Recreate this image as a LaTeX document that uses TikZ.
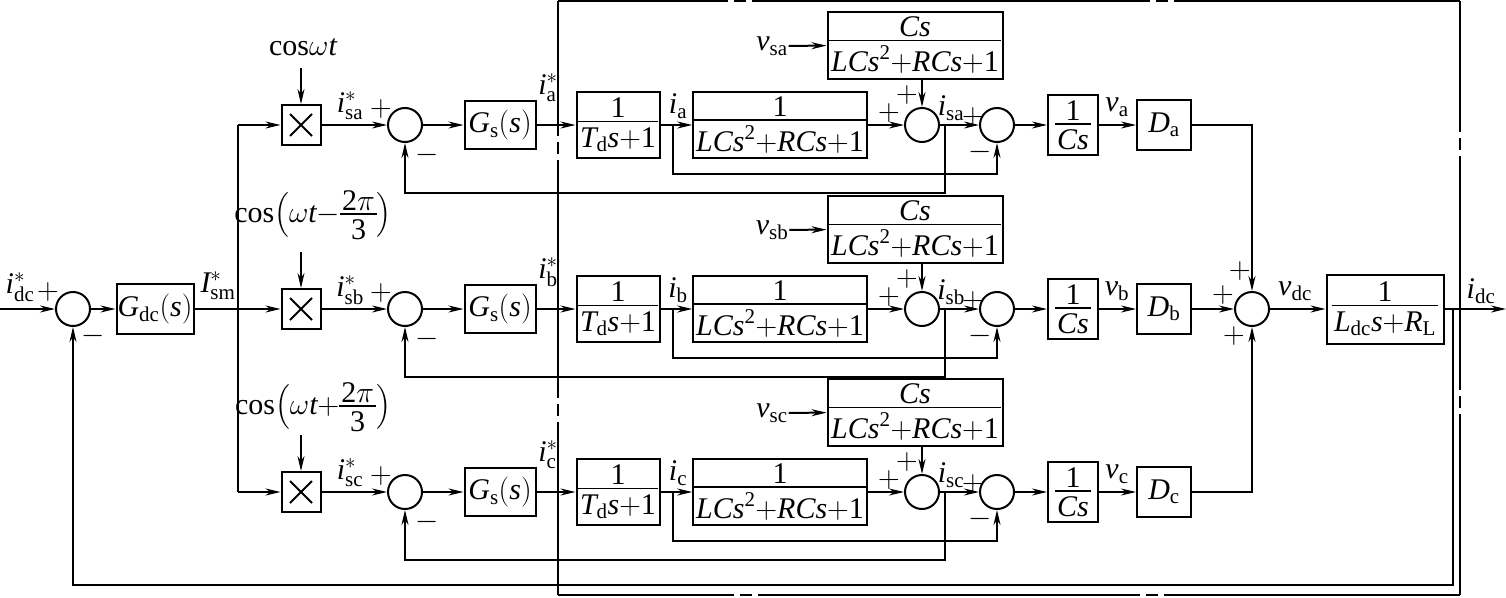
\RequirePackage{fix-cm}
\documentclass[tikz,border=0pt]{standalone}
\usepackage{amsmath}
\usepackage{fontspec}
\setmainfont{Liberation Serif}
\usetikzlibrary{arrows.meta}
\newcommand\mi[1]{\mathit{#1}}
\newcommand\mr[1]{\mathrm{#1}}
\newdimen\frw
\newcommand\fr[2]{\vcenter{\hbox{\setbox0\hbox{$#1$}\setbox2\hbox{$#2$}%
  \frw=\ifdim\wd0>\wd2 \wd0\else\wd2\fi \advance\frw by 4pt
  \vbox{\hbox to\frw{\hss\box0\hss}\kern3pt\hrule height 1.5pt\kern5pt\hbox to\frw{\hss\box2\hss}}}}}
\begin{document}
\begin{tikzpicture}[x=1pt,y=-1pt,
  line width=2pt,
  >={Stealth[length=15pt,width=7pt]},
  every node/.style={font=\fontsize{30}{36}\selectfont, inner sep=0pt},
  blk/.style={draw, line width=2pt, inner sep=1pt},
  sumc/.style={draw, circle, minimum size=34pt, line width=2pt},
  mult/.style={draw, minimum width=39pt, minimum height=40pt, line width=2pt},
  sgn/.style={inner sep=0pt},
  frame/.style={line width=1.5pt}
]
\useasboundingbox (0,0) rectangle (1506,597);

% ---------- left part ----------
\coordinate (in) at (0,309);
\node[sumc] (s0) at (73,309) {};
\node[blk, minimum width=77pt, minimum height=50pt] (gdc) at (155,309) {$\mi{G}_{\mr{dc}}(\mi{s})$};
\coordinate (bus) at (238,309);
\node (lidc) at (20,287) {$\mi{i}^{*}_{\mr{dc}}$};
\node[sgn] (p0) at (48,292) {$+$};
\node[sgn] (n0) at (93,336) {$-$};
\node (lism) at (218,286) {$\mi{I}^{*}_{\mr{sm}}$};

\node (cosa) at (303,47) {$\mr{cos}\omega\mi{t}$};
\node (cosb) at (313,215) {$\mr{cos}\!\left(\omega\mi{t}{-}\fr{\mr{2}\pi}{\mr{3}}\right)$};
\node (cosc) at (313,407) {$\mr{cos}\!\left(\omega\mi{t}{+}\fr{\mr{2}\pi}{\mr{3}}\right)$};

% ---------- three phase rows ----------
\foreach \rw/\y in {a/125,b/309,c/492}{
  \coordinate (bus\rw) at (238,\y);
  \coordinate (ct\rw) at (301,\y-57);
  \node[mult] (m\rw) at (301,\y) {};
  \draw ([shift={(-11,-11)}]m\rw.center) -- ([shift={(11,11)}]m\rw.center)
        ([shift={(-11,11)}]m\rw.center) -- ([shift={(11,-11)}]m\rw.center);
  \node[sumc] (e\rw) at (405,\y) {};
  \node[blk, minimum width=71pt, minimum height=48pt] (gs\rw) at (500,\y) {$\mi{G}_{\mr{s}}(\mi{s})$};
  \node[blk, minimum width=83pt, minimum height=66pt] (td\rw) at (618,\y) {$\fr{\mr{1}}{\mi{T}_{\mr{d}}\mi{s}{+}\mr{1}}$};
  \node[blk, minimum width=171pt, minimum height=66pt] (lc\rw) at (780,\y) {$\fr{\mr{1}}{\mi{LCs}^{\mr{2}}{+}\mi{RCs}{+}\mr{1}}$};
  \node[blk, minimum width=175pt, minimum height=67pt] (cs\rw) at (915,\y-80) {$\fr{\mi{Cs}}{\mi{LCs}^{\mr{2}}{+}\mi{RCs}{+}\mr{1}}$};
  \node (vs\rw) at (772,\y-79) {$\mi{v}_{\mr{s\rw}}$};
  \node[sumc] (sa\rw) at (922,\y) {};
  \node[sumc] (sb\rw) at (997,\y) {};
  \node[blk, minimum width=50pt, minimum height=60pt] (ic\rw) at (1073,\y) {$\fr{\mr{1}}{\mi{Cs}}$};
  \node[blk, minimum width=54pt, minimum height=50pt] (d\rw) at (1164,\y) {$\mi{D}_{\mr{\rw}}$};
  \coordinate (ba\rw) at (673,\y);
  \coordinate (bs\rw) at (945,\y);
  % labels
  \node (lis\rw) at (350,\y-19) {$\mi{i}^{*}_{\mr{s\rw}}$};
  \node[sgn] at (381,\y-16) {$+$};
  \node[sgn] at (427,\y+30) {$-$};
  \node (lir\rw) at (548,\y-37) {$\mi{i}^{*}_{\mr{\rw}}$};
  \node (li\rw) at (678,\y-19) {$\mi{i}_{\mr{\rw}}$};
  \node[sgn] at (907,\y-30) {$+$};
  \node[sgn] at (889,\y-12) {$+$};
  \node (lisx\rw) at (951,\y-17) {$\mi{i}_{\mr{s\rw}}$};
  \node[sgn] at (973,\y-8) {$+$};
  \node[sgn] at (980,\y+27) {$-$};
  \node (lv\rw) at (1117,\y-18) {$\mi{v}_{\mr{\rw}}$};
  % connectors
  \draw[->] (bus\rw) -- (m\rw);
  \draw[->] (ct\rw) -- (m\rw);
  \draw[->] (m\rw) -- (e\rw);
  \draw[->] (e\rw) -- (gs\rw);
  \draw[->] (gs\rw) -- (td\rw);
  \draw[->] (td\rw) -- (lc\rw);
  \draw[->] (lc\rw) -- (sa\rw);
  \draw[->] (vs\rw) -- (cs\rw);
  \draw[->] (sa\rw |- cs\rw.south) -- (sa\rw);
  \draw[->] (sa\rw) -- (sb\rw);
  \draw[->] (sb\rw) -- (ic\rw);
  \draw[->] (ic\rw) -- (d\rw);
  \draw[->] (ba\rw) -- ++(0,49) -| (sb\rw);
  \draw[->] (bs\rw) -- ++(0,68) -| (e\rw);
}

% ---------- right part ----------
\node[sumc] (sd) at (1252,309) {};
\node[blk, minimum width=117pt, minimum height=69pt] (ldc) at (1385,309) {$\fr{\mr{1}}{\mi{L}_{\mr{dc}}\mi{s}{+}\mi{R}_{\mr{L}}}$};
\coordinate (out) at (1506,309);
\coordinate (fb) at (1453,309);
\coordinate (fbc) at (1453,585);
\node[sgn] at (1240,271) {$+$};
\node[sgn] at (1223,295) {$+$};
\node[sgn] at (1234,336) {$+$};
\node (lvdc) at (1295,291) {$\mi{v}_{\mr{dc}}$};
\node (lidco) at (1481,291) {$\mi{i}_{\mr{dc}}$};

\draw[->] (in) -- (s0);
\draw[->] (s0) -- (gdc);
\draw (gdc) -- (bus);
\draw (busa) -- (busc);
\draw[->] (da) -| (sd);
\draw[->] (db) -- (sd);
\draw[->] (dc) -| (sd);
\draw[->] (sd) -- (ldc);
\draw[->] (ldc) -- (out);
\draw[->] (fb) -- (fbc) -| (s0);

% ---------- dash-dotted frame ----------
\draw[frame] (558,1) -- (728,1) (734,1) -- (746,1) (752,1) -- (1150,1) (1156,1) -- (1168,1) (1174,1) -- (1460,1);
\draw[frame] (558,595) -- (734,595) (740,595) -- (752,595) (758,595) -- (1140,595) (1146,595) -- (1158,595) (1164,595) -- (1460,595);
\draw[frame] (558,1) -- (558,136) (558,142) -- (558,154) (558,160) -- (558,398) (558,404) -- (558,416) (558,422) -- (558,595);
\draw[frame] (1460,1) -- (1460,132) (1460,138) -- (1460,150) (1460,156) -- (1460,390) (1460,396) -- (1460,408) (1460,414) -- (1460,595);
\end{tikzpicture}
\end{document}
